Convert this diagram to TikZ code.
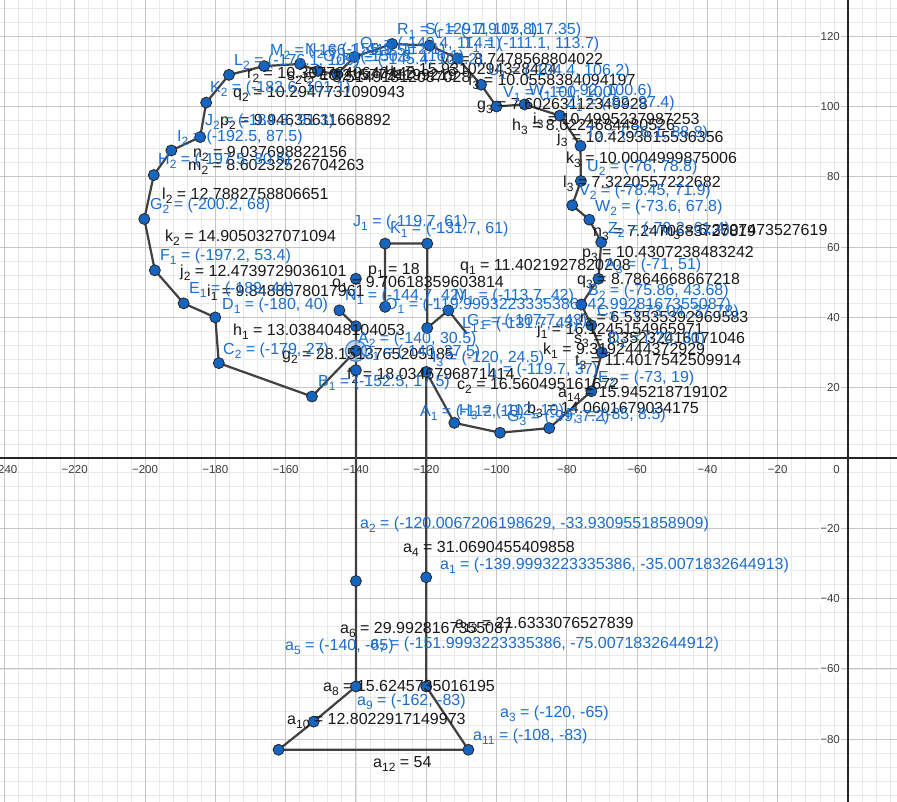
\documentclass[tikz,border=0pt]{standalone}
\usepackage{fontspec}
\setmainfont{Liberation Sans}
\definecolor{ptblue}{RGB}{21,101,192}
\definecolor{lblue}{RGB}{28,110,205}
\definecolor{segc}{RGB}{64,64,64}
\definecolor{gmin}{RGB}{233,233,233}
\definecolor{gmaj}{RGB}{198,198,198}
\definecolor{axc}{RGB}{37,37,37}
\definecolor{tickc}{RGB}{60,60,60}
\definecolor{txt}{RGB}{25,25,25}
\newcommand\sbx[1]{\raisebox{-4.5pt}{\fontsize{12}{12}\selectfont #1}}
\begin{document}
\begin{tikzpicture}[x=1pt,y=-1pt,
  seg/.style={draw=segc,line width=2.2pt,line join=round,line cap=round},
  ggpt/.style={circle,fill=ptblue,draw=black!85,line width=0.8pt,minimum size=11pt,inner sep=0pt},
  halo/.style={circle,fill=ptblue!35,fill opacity=0.7,draw=ptblue!75!white,line width=1.3pt,minimum size=21pt,inner sep=0pt},
  bl/.style={anchor=base west,inner sep=0pt,text=lblue,font=\fontsize{16}{19}\selectfont},
  bk/.style={anchor=base west,inner sep=0pt,text=txt,font=\fontsize{16}{19}\selectfont},
  axl/.style={inner sep=0pt,text=tickc,font=\fontsize{11.5}{12}\selectfont},
  minorg/.style={draw=gmin,line width=0.7pt},
  majorg/.style={draw=gmaj,line width=0.9pt},
  axisline/.style={draw=axc,line width=1.2pt}]
\useasboundingbox (0,0) rectangle (897,801);
\clip (0,0) rectangle (897,801);
\fill[white] (0,0) rectangle (897,801);
\begin{scope}[shift={(848,458)},x=3.515pt,y=3.515pt]
  % grid
  \foreach \i in {-244,-240,...,12} \draw[minorg] (\i,-100) -- (\i,132);
  \foreach \j in {-100,-96,...,132} \draw[minorg] (-245,\j) -- (16,\j);
  \foreach \i in {-240,-220,...,0} \draw[majorg] (\i,-100) -- (\i,132);
  \foreach \j in {-80,-60,...,120} \draw[majorg] (-245,\j) -- (16,\j);
  \draw[axisline] (-245,0) -- (16,0);
  \draw[axisline] (0,-100) -- (0,132);
  % axis labels
  \foreach \i in {-240,-220,...,-20} {
    \pgfmathtruncatemacro\av{-\i}
    \node[axl,anchor=north,yshift=-7pt] (xl\av) at (\i,0) {−\av};
  }
  \foreach \j in {20,40,...,120}
    \node[axl,anchor=east,xshift=-7pt,fill=white,inner sep=1pt] (yl\j) at (0,\j) {\j};
  \foreach \j in {20,40,...,80} {
    \node[axl,anchor=east,xshift=-7pt,fill=white,inner sep=1pt] (ym\j) at (0,-\j) {−\j};
  }
  \node[axl,anchor=north east,xshift=-8pt,yshift=-7pt] (origin) at (0,0) {0};
  % points
  \coordinate (A2) at (-140,30.5);
  \coordinate (B1) at (-152.5,17.5);
  \coordinate (C2) at (-179,27);
  \coordinate (D1) at (-180,40);
  \coordinate (E1) at (-189,44);
  \coordinate (F1) at (-197.2,53.4);
  \coordinate (G2) at (-200.2,68);
  \coordinate (H2) at (-197.5,80.5);
  \coordinate (I2) at (-192.5,87.5);
  \coordinate (J2) at (-184.3,91.3);
  \coordinate (K2) at (-182.6,101.1);
  \coordinate (L2) at (-176.1,109);
  \coordinate (M2) at (-166.1,111.5);
  \coordinate (N2) at (-155.9,112.1);
  \coordinate (O2) at (-150.8,110.1);
  \coordinate (P2) at (-145.4,109.2);
  \coordinate (Q2) at (-140.4,114.1);
  \coordinate (R1) at (-129.7,117.8);
  \coordinate (S1) at (-119.05,117.35);
  \coordinate (T1) at (-111.1,113.7);
  \coordinate (U1) at (-104.4,106.2);
  \coordinate (V1) at (-100,100);
  \coordinate (W1) at (-92,100.6);
  \coordinate (Z1) at (-82,97.4);
  \coordinate (T2) at (-76.1,88.8);
  \coordinate (U2) at (-76,78.8);
  \coordinate (V2) at (-78.45,71.9);
  \coordinate (W2) at (-73.6,67.8);
  \coordinate (Z2) at (-70.2,61.4);
  \coordinate (A3) at (-71,51);
  \coordinate (B2) at (-75.86,43.68);
  \coordinate (C3) at (-73.04,37.78);
  \coordinate (D2) at (-70,30);
  \coordinate (E2) at (-73,19);
  \coordinate (F3) at (-85,8.5);
  \coordinate (G3) at (-99,7.2);
  \coordinate (H3) at (-112,10);
  \coordinate (I3) at (-120,24.5);
  \coordinate (aa2) at (-120.0067,-33.93);
  \coordinate (aa3) at (-120,-65);
  \coordinate (aa11) at (-108,-83);
  \coordinate (aa9) at (-162,-83);
  \coordinate (aa7) at (-152,-75);
  \coordinate (aa5) at (-140,-65);
  \coordinate (aa1) at (-140,-35.007);
  \coordinate (P25) at (-140,25);
  \coordinate (Q1) at (-140,37.5);
  \coordinate (N1) at (-144.7,42);
  \coordinate (O51) at (-140,51);
  \coordinate (J1) at (-131.7,61);
  \coordinate (K1) at (-119.7,61);
  \coordinate (L1) at (-131.7,43);
  \coordinate (I1) at (-119.7,37);
  \coordinate (M1) at (-113.7,42);
  \coordinate (Mx) at (-108.5,35.5);
  % segments
  \draw[seg] (A2) -- (B1) -- (C2) -- (D1) -- (E1) -- (F1) -- (G2) -- (H2) -- (I2) -- (J2) -- (K2) -- (L2) -- (M2) -- (N2) -- (O2) -- (P2) -- (Q2) -- (R1) -- (S1) -- (T1) -- (U1) -- (V1) -- (W1) -- (Z1) -- (T2) -- (U2) -- (V2) -- (W2) -- (Z2) -- (A3) -- (B2) -- (C3) -- (D2) -- (E2) -- (F3) -- (G3) -- (H3) -- (I3) -- (aa2) -- (aa3) -- (aa11) -- (aa9) -- (aa7) -- (aa5) -- (aa1) -- (P25) -- (A2) -- (Q1) -- (N1);
  \draw[seg] (L1) -- (J1) -- (K1) -- (I1) -- (M1) -- (Mx);
  % halo and dots
  \node[halo] (hA2) at (A2) {};
  \foreach \p in {A2,B1,C2,D1,E1,F1,G2,H2,I2,J2,K2,L2,M2,N2,O2,P2,Q2,R1,S1,T1,U1,V1,W1,Z1,T2,U2,V2,W2,Z2,A3,B2,C3,D2,E2,F3,G3,H3,I3,aa2,aa3,aa11,aa9,aa7,aa5,aa1,P25,Q1,N1,O51,J1,K1,L1,I1,M1}
    \node[ggpt] (d\p) at (\p) {};
\end{scope}
% black segment labels
\node[bk] (sl2) at (162,199) {l\sbx{2} = 12.7882758806651};
\node[bk] (sk2) at (165,241) {k\sbx{2} = 14.9050327071094};
\node[bk] (sj2) at (180,276) {j\sbx{2} = 12.4739729036101};
\node[bk] (si1) at (207,296) {i\sbx{1} = 9.8488578017961};
\node[bk] (sh1) at (233,335) {h\sbx{1} = 13.0384048104053};
\node[bk] (sg2) at (282,359) {g\sbx{2} = 28.1513765205185};
\node[bk] (sf2) at (347,379) {f\sbx{2} = 18.0346796871414};
\node[bk] (sm2) at (188,170) {m\sbx{2} = 8.60232526704263};
\node[bk] (sn2) at (193,157) {n\sbx{2} = 9.037698822156};
\node[bk] (sp2) at (220,125) {p\sbx{2} = 9.94635611668892};
\node[bk] (sq2) at (233,97) {q\sbx{2} = 10.2947731090943};
\node[bk] (sr2) at (247,78) {r\sbx{2} = 10.3077640640442};
\node[bk] (ss2) at (287,80) {s\sbx{2} = 10.2157721199219};
\node[bk] (st2) at (303,82) {t\sbx{2} = 3.51491812087028};
\node[bk] (su2) at (385,74) {u\sbx{2} = 15.9310294328424};
\node[bk] (sv2) at (441,64) {v\sbx{2} = 8.7478568804022};
\node[bk] (sf3) at (468,85) {f\sbx{3} = 10.0558384094197};
\node[bk] (sg3) at (477,109) {g\sbx{3} = 7.60263112349928};
\node[bk] (sh3) at (512,130) {h\sbx{3} = 8.0224684480526};
\node[bk] (si3) at (533,124) {i\sbx{3} = 10.4995237987253};
\node[bk] (sj3) at (557,142) {j\sbx{3} = 10.4293815536356};
\node[bk] (sk3) at (566,163) {k\sbx{3} = 10.0004999875006};
\node[bk] (sl3) at (563,187) {l\sbx{3} = 7.3220557222682};
\node[bk] (sn3) at (593,236) {n\sbx{3} = 7.2470683727819};
\node[bk] (sm3) at (660,235) {m\sbx{3} = 6.3507473527619};
\node[bk] (sp3) at (582,257) {p\sbx{3} = 10.4307238483242};
\node[bk] (sq3) at (577,284) {q\sbx{3} = 8.7864668667218};
\node[bk] (sr3) at (580,322) {r\sbx{3} = 6.53535392969583};
\node[bk] (sj1) at (537,334) {j\sbx{1} = 16.1245154965971};
\node[bk] (ss3) at (574,343) {s\sbx{3} = 8.35232416171046};
\node[bk] (sk1) at (543,354) {k\sbx{1} = 9.3192444372929};
\node[bk] (st3) at (575,365) {t\sbx{3} = 11.4017542509914};
\node[bk] (sc2) at (457,389) {c\sbx{2} = 16.560495161672};
\node[bk] (sa14) at (558,397) {a\sbx{14} = 15.945218719102};
\node[bk] (sb3) at (527,413) {b\sbx{3} = 14.0601679034175};
\node[bk] (so1) at (332,287) {o\sbx{1} = 9.70618359603814};
\node[bk] (sp1) at (368,274) {p\sbx{1} = 18};
\node[bk] (sq1) at (460,270) {q\sbx{1} = 11.4021927820208};
\node[bk] (sa4) at (403,552) {a\sbx{4} = 31.0690455409858};
\node[bk] (sa6) at (340,633) {a\sbx{6} = 29.9928167355087};
\node[bk] (sa13) at (455,628) {a\sbx{13} = 21.6333076527839};
\node[bk] (sa8) at (323,691) {a\sbx{8} = 15.6245735016195};
\node[bk] (sa10) at (287,724) {a\sbx{10} = 12.8022917149973};
\node[bk] (sa12) at (373,767) {a\sbx{12} = 54};
% blue point labels
\node[bl] (tH2) at (158,164) {H\sbx{2} = (-197.5, 80.5)};
\node[bl] (tI2) at (177,141) {I\sbx{2} = (-192.5, 87.5)};
\node[bl] (tJ2) at (205,125) {J\sbx{2} = (-184.3, 91.3)};
\node[bl] (tK2) at (210,92) {K\sbx{2} = (-182.6, 101.1)};
\node[bl] (tL2) at (234,65) {L\sbx{2} = (-176.1, 109)};
\node[bl] (tM2) at (270,55) {M\sbx{2} = (-166.1, 111.5)};
\node[bl] (tN2) at (305,54) {N\sbx{2} = (-155.9, 112.1)};
\node[bl] (tO2) at (323,61) {O\sbx{2} = (-150.8, 110.1)};
\node[bl] (tP2) at (342,64) {P\sbx{2} = (-145.4, 109.2)};
\node[bl] (tQ2) at (360,48) {Q\sbx{2} = (-140.4, 114.1)};
\node[bl] (tR1) at (397,34) {R\sbx{1} = (-129.7, 117.8)};
\node[bl] (tS1) at (425,34) {S\sbx{1} = (-119.05, 117.35)};
\node[bl] (tT1) at (463,48) {T\sbx{1} = (-111.1, 113.7)};
\node[bl] (tU1) at (488,75) {U\sbx{1} = (-104.4, 106.2)};
\node[bl] (tV1) at (503,97) {V\sbx{1} = (-100, 100)};
\node[bl] (tW1) at (529,95) {W\sbx{1} = (-92, 100.6)};
\node[bl] (tZ1) at (566,107) {Z\sbx{1} = (-82, 97.4)};
\node[bl] (tT2) at (586,137) {T\sbx{2} = (-76.1, 88.8)};
\node[bl] (tU2) at (587,171) {U\sbx{2} = (-76, 78.8)};
\node[bl] (tV2) at (579,195) {V\sbx{2} = (-78.45, 71.9)};
\node[bl] (tW2) at (595,211) {W\sbx{2} = (-73.6, 67.8)};
\node[bl] (tZ2) at (608,233) {Z\sbx{2} = (-70.2, 61.4)};
\node[bl] (tA3) at (605,269) {A\sbx{3} = (-71, 51)};
\node[bl] (tB2) at (588,295) {B\sbx{2} = (-75.86, 43.68)};
\node[bl] (tC3) at (597,316) {C\sbx{3} = (-73.04, 37.78)};
\node[bl] (tD2) at (608,343) {D\sbx{2} = (-70, 30)};
\node[bl] (tE2) at (598,382) {E\sbx{2} = (-73, 19)};
\node[bl] (tF3) at (566,419) {F\sbx{3} = (-85, 8.5)};
\node[bl] (tG3) at (507,421) {G\sbx{3} = (-99, 7.2)};
\node[bl] (tH3) at (459,415) {H\sbx{3} = (-112, 10)};
\node[bl] (tA1) at (420,416) {A\sbx{1} = (-112, 10)};
\node[bl] (tI3) at (432,362) {I\sbx{3} = (-120, 24.5)};
\node[bl] (tI1) at (487,374) {I\sbx{1} = (-119.7, 37)};
\node[bl] (tB1) at (318,386) {B\sbx{1} = (-152.5, 17.5)};
\node[bl] (tA2) at (358,343) {A\sbx{2} = (-140, 30.5)};
\node[bl] (tQ1) at (360,356) {Q\sbx{1} = (-140, 37.5)};
\node[bl] (tC2) at (223,354) {C\sbx{2} = (-179, 27)};
\node[bl] (tD1) at (222,309) {D\sbx{1} = (-180, 40)};
\node[bl] (tE1) at (189,293) {E\sbx{1} = (-189, 44)};
\node[bl] (tF1) at (160,260) {F\sbx{1} = (-197.2, 53.4)};
\node[bl] (tG2) at (150,209) {G\sbx{2} = (-200.2, 68)};
\node[bl] (tN1) at (345,300) {N\sbx{1} = (-144.7, 42)};
\node[bl] (tM1) at (454,300) {M\sbx{1} = (-113.7, 42)};
\node[bl] (tO1) at (385,309) {O\sbx{1} = (-119.9993223335386, 42.9928167355087)};
\node[bl] (tJ1) at (353,226) {J\sbx{1} = (-119.7, 61)};
\node[bl] (tK1) at (390,233) {K\sbx{1} = (-131.7, 61)};
\node[bl] (tL1) at (462,328) {L\sbx{1} = (-131.7, 43)};
\node[bl] (tG1) at (467,325) {G\sbx{1} = (-107.7, 43)};
\node[bl] (ta2) at (360,528) {a\sbx{2} = (-120.0067206198629, -33.9309551858909)};
\node[bl] (ta1) at (440,569) {a\sbx{1} = (-139.9993223335386, -35.0071832644913)};
\node[bl] (ta5) at (285,650) {a\sbx{5} = (-140, -65)};
\node[bl] (ta7) at (370,648) {a\sbx{7} = (-151.9993223335386, -75.0071832644912)};
\node[bl] (ta9) at (357,705) {a\sbx{9} = (-162, -83)};
\node[bl] (ta3) at (500,717) {a\sbx{3} = (-120, -65)};
\node[bl] (ta11) at (473,740) {a\sbx{11} = (-108, -83)};
\end{tikzpicture}
\end{document}
